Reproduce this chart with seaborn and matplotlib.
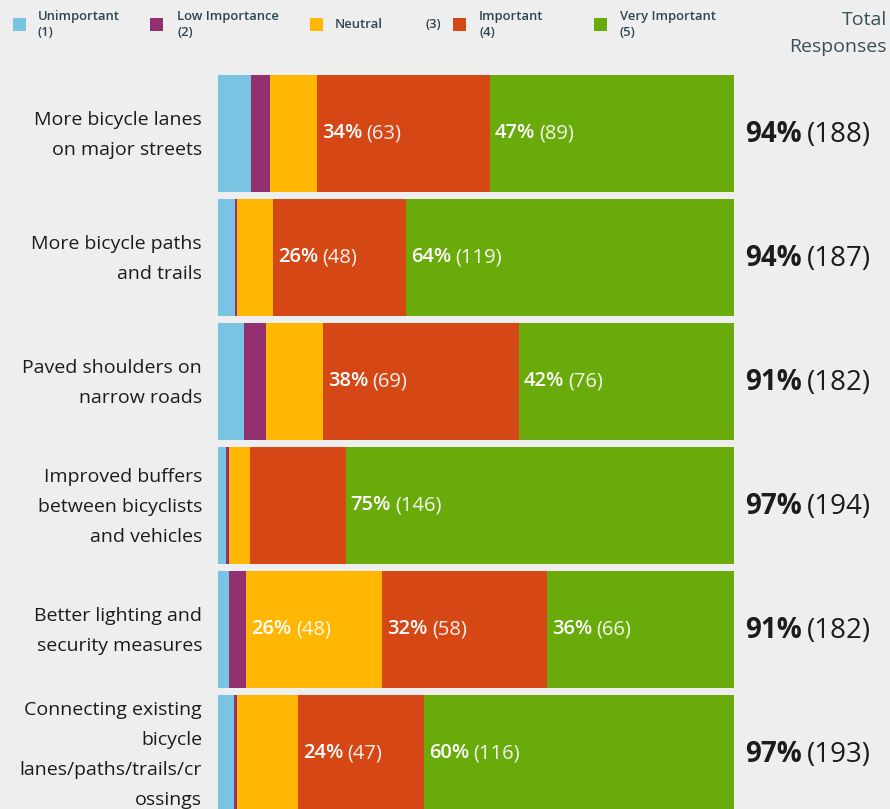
import numpy as np
import pandas as pd
import seaborn as sns
import matplotlib.pyplot as plt
from matplotlib.patches import Rectangle

# Survey: importance of bicycle facility improvements (counts per rating)
categories = [
    "More bicycle lanes\non major streets",
    "More bicycle paths\nand trails",
    "Paved shoulders on\nnarrow roads",
    "Improved buffers\nbetween bicyclists\nand vehicles",
    "Better lighting and\nsecurity measures",
    "Connecting existing\nbicycle\nlanes/paths/trails/cr\nossings",
]
levels = ["Unimportant", "Low Importance", "Neutral", "Important", "Very Important"]
legend_labels = ["Unimportant\n(1)", "Low Importance\n(2)", "Neutral", "Important\n(4)", "Very Important\n(5)"]

unimportant = [12, 6, 9, 3, 4, 6]
low_importance = [7, 1, 8, 1, 6, 1]
neutral = [17, 13, 20, 8, 48, 23]
important = [63, 48, 69, 36, 58, 47]
very_important = [89, 119, 76, 146, 66, 116]
surveyed = 200

colors = ["#78c4e2", "#93306f", "#ffb703", "#d64716", "#6aab0c"]
BG = "#eeeeee"
TEXT_DARK = "#1c1c1c"
LEGEND_TEXT = "#2e4552"

sns.set_theme(style="white")
plt.rcParams["font.family"] = ["Open Sans", "DejaVu Sans"]

counts = pd.DataFrame(
    dict(zip(levels, [unimportant, low_importance, neutral, important, very_important])),
    index=categories,
)
totals = counts.sum(axis=1)
shares = counts.mul(100).div(totals, axis=0)
cum = shares.cumsum(axis=1)
cum_long = cum.reset_index().rename(columns={"index": "category"})


def rounded(v):
    return int(np.floor(v + 0.5))


W, H = 890, 809
fig = plt.figure(figsize=(W / 100, H / 100), dpi=100, facecolor=BG)
ax = fig.add_axes([218 / W, 1 - 815.5 / H, 516 / W, 744 / H])
ax.set_facecolor(BG)

# stacked bars: draw cumulative shares from the outermost level inwards
for level, color in reversed(list(zip(levels, colors))):
    sns.barplot(
        data=cum_long, x=level, y="category", order=categories, orient="h",
        color=color, saturation=1, width=0.94, errorbar=None, linewidth=0, ax=ax,
    )

ax.set_xlim(0, 100)
ax.set_ylim(len(categories) - 0.5, -0.5)
ax.set_xlabel("")
ax.set_ylabel("")
ax.set_xticks([])
ax.set_yticks(range(len(categories)))
ax.set_yticklabels([])
ax.tick_params(axis="y", length=0)
for s in ax.spines.values():
    s.set_visible(False)

# category names, right-aligned next to the bars
for i, cat in enumerate(categories):
    ax.annotate(
        cat, xy=(0, i), xycoords=("axes fraction", "data"), xytext=(-11.5, -1.3),
        textcoords="offset points", ha="right", va="center", fontsize=14,
        color=TEXT_DARK, linespacing=1.86, multialignment="right", annotation_clip=False,
    )

# in-bar labels for the larger segments
for i, cat in enumerate(categories):
    for level in levels:
        pct = shares.loc[cat, level]
        if pct >= 20:
            left = cum.loc[cat, level] - pct
            t = ax.annotate(
                f"{rounded(pct)}%", xy=(left, i), xytext=(3.6, 0), textcoords="offset points",
                ha="left", va="center", fontsize=14.5, fontweight="semibold", color="white",
            )
            ax.annotate(
                f"({counts.loc[cat, level]})", xy=(1, 0), xycoords=t, xytext=(3, 0),
                textcoords="offset points", ha="left", va="bottom", fontsize=14.5,
                color="white", alpha=0.93,
            )

# total responses at the right of each bar
for i, cat in enumerate(categories):
    tot = totals.loc[cat]
    t = ax.annotate(
        f"{rounded(tot * 100 / surveyed)}%", xy=(1 + 11 / 516, i),
        xycoords=("axes fraction", "data"), xytext=(0, -1), textcoords="offset points",
        ha="left", va="center", fontsize=20, fontweight="bold", color=TEXT_DARK,
        annotation_clip=False,
    )
    ax.annotate(
        f"({tot})", xy=(1, 0), xycoords=t, xytext=(4, 0), textcoords="offset points",
        ha="left", va="bottom", fontsize=20, color=TEXT_DARK, annotation_clip=False,
    )

# legend row
square_x = [13, 150, 310, 453, 594]
text_x = [38, 177, 335, 479, 620]
for sx, tx, lab, color in zip(square_x, text_x, legend_labels, colors):
    fig.add_artist(Rectangle((sx / W, 1 - 30.5 / H), 13 / W, 13 / H,
                             transform=fig.transFigure, facecolor=color, edgecolor="none"))
    fig.text(tx / W, 1 - 24.5 / H, lab, ha="left", va="center", fontsize=9.4,
             fontweight="semibold", color=LEGEND_TEXT, linespacing=1.3)
fig.text(425 / W, 1 - 24.5 / H, "(3)", ha="left", va="center", fontsize=9.4,
         fontweight="semibold", color=LEGEND_TEXT)

fig.text(887 / W, 1 - 33.5 / H, "Total\nResponses", ha="right", va="center",
         fontsize=14, color="#3a4f5a", linespacing=1.6)

fig.savefig("out.png", dpi=100, facecolor=BG)
